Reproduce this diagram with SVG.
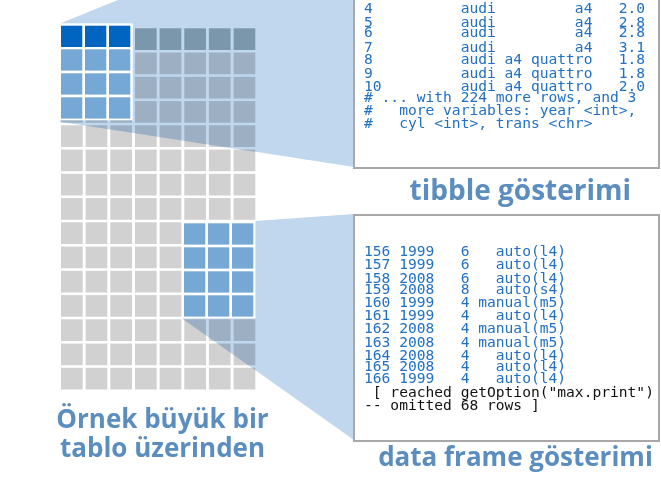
<svg xmlns="http://www.w3.org/2000/svg" width="661" height="478" viewBox="0 0 661 478">
<defs>
<style>
.c{fill:#d1d1d1}
.h{fill:#a3b3b9}
.d{fill:#0065c1}
.m{fill:#76a8d6}
.ov{fill:#c0d7ee;mix-blend-mode:multiply}
.box{fill:#ffffff;stroke:#a8a8a8;stroke-width:2}
.mono{font-family:"DejaVu Sans Mono","Liberation Mono",monospace;font-size:14.6px;fill:#2270c4;white-space:pre}
.blk{fill:#111111}
.lbl{font-family:"Open Sans","Noto Sans",sans-serif;font-weight:700;fill:#5b8dbe}
</style>
</defs>
<rect width="661" height="478" fill="#ffffff"/>
<g id="grid">
<g transform="translate(0,28.3)"><rect class="h" x="61" width="21.7" height="21.7"/><rect class="h" x="85.6" width="21.7" height="21.7"/><rect class="h" x="110.3" width="21.7" height="21.7"/><rect class="h" x="135" width="21.7" height="21.7"/><rect class="h" x="159.6" width="21.7" height="21.7"/><rect class="h" x="184.3" width="21.7" height="21.7"/><rect class="h" x="208.9" width="21.7" height="21.7"/><rect class="h" x="233.6" width="21.7" height="21.7"/></g>
<g transform="translate(0,52.55)"><rect class="c" x="61" width="21.7" height="21.7"/><rect class="c" x="85.6" width="21.7" height="21.7"/><rect class="c" x="110.3" width="21.7" height="21.7"/><rect class="c" x="135" width="21.7" height="21.7"/><rect class="c" x="159.6" width="21.7" height="21.7"/><rect class="c" x="184.3" width="21.7" height="21.7"/><rect class="c" x="208.9" width="21.7" height="21.7"/><rect class="c" x="233.6" width="21.7" height="21.7"/></g>
<g transform="translate(0,76.8)"><rect class="c" x="61" width="21.7" height="21.7"/><rect class="c" x="85.6" width="21.7" height="21.7"/><rect class="c" x="110.3" width="21.7" height="21.7"/><rect class="c" x="135" width="21.7" height="21.7"/><rect class="c" x="159.6" width="21.7" height="21.7"/><rect class="c" x="184.3" width="21.7" height="21.7"/><rect class="c" x="208.9" width="21.7" height="21.7"/><rect class="c" x="233.6" width="21.7" height="21.7"/></g>
<g transform="translate(0,101.05)"><rect class="c" x="61" width="21.7" height="21.7"/><rect class="c" x="85.6" width="21.7" height="21.7"/><rect class="c" x="110.3" width="21.7" height="21.7"/><rect class="c" x="135" width="21.7" height="21.7"/><rect class="c" x="159.6" width="21.7" height="21.7"/><rect class="c" x="184.3" width="21.7" height="21.7"/><rect class="c" x="208.9" width="21.7" height="21.7"/><rect class="c" x="233.6" width="21.7" height="21.7"/></g>
<g transform="translate(0,125.3)"><rect class="c" x="61" width="21.7" height="21.7"/><rect class="c" x="85.6" width="21.7" height="21.7"/><rect class="c" x="110.3" width="21.7" height="21.7"/><rect class="c" x="135" width="21.7" height="21.7"/><rect class="c" x="159.6" width="21.7" height="21.7"/><rect class="c" x="184.3" width="21.7" height="21.7"/><rect class="c" x="208.9" width="21.7" height="21.7"/><rect class="c" x="233.6" width="21.7" height="21.7"/></g>
<g transform="translate(0,149.55)"><rect class="c" x="61" width="21.7" height="21.7"/><rect class="c" x="85.6" width="21.7" height="21.7"/><rect class="c" x="110.3" width="21.7" height="21.7"/><rect class="c" x="135" width="21.7" height="21.7"/><rect class="c" x="159.6" width="21.7" height="21.7"/><rect class="c" x="184.3" width="21.7" height="21.7"/><rect class="c" x="208.9" width="21.7" height="21.7"/><rect class="c" x="233.6" width="21.7" height="21.7"/></g>
<g transform="translate(0,173.8)"><rect class="c" x="61" width="21.7" height="21.7"/><rect class="c" x="85.6" width="21.7" height="21.7"/><rect class="c" x="110.3" width="21.7" height="21.7"/><rect class="c" x="135" width="21.7" height="21.7"/><rect class="c" x="159.6" width="21.7" height="21.7"/><rect class="c" x="184.3" width="21.7" height="21.7"/><rect class="c" x="208.9" width="21.7" height="21.7"/><rect class="c" x="233.6" width="21.7" height="21.7"/></g>
<g transform="translate(0,198.05)"><rect class="c" x="61" width="21.7" height="21.7"/><rect class="c" x="85.6" width="21.7" height="21.7"/><rect class="c" x="110.3" width="21.7" height="21.7"/><rect class="c" x="135" width="21.7" height="21.7"/><rect class="c" x="159.6" width="21.7" height="21.7"/><rect class="c" x="184.3" width="21.7" height="21.7"/><rect class="c" x="208.9" width="21.7" height="21.7"/><rect class="c" x="233.6" width="21.7" height="21.7"/></g>
<g transform="translate(0,222.3)"><rect class="c" x="61" width="21.7" height="21.7"/><rect class="c" x="85.6" width="21.7" height="21.7"/><rect class="c" x="110.3" width="21.7" height="21.7"/><rect class="c" x="135" width="21.7" height="21.7"/><rect class="c" x="159.6" width="21.7" height="21.7"/><rect class="c" x="184.3" width="21.7" height="21.7"/><rect class="c" x="208.9" width="21.7" height="21.7"/><rect class="c" x="233.6" width="21.7" height="21.7"/></g>
<g transform="translate(0,246.55)"><rect class="c" x="61" width="21.7" height="21.7"/><rect class="c" x="85.6" width="21.7" height="21.7"/><rect class="c" x="110.3" width="21.7" height="21.7"/><rect class="c" x="135" width="21.7" height="21.7"/><rect class="c" x="159.6" width="21.7" height="21.7"/><rect class="c" x="184.3" width="21.7" height="21.7"/><rect class="c" x="208.9" width="21.7" height="21.7"/><rect class="c" x="233.6" width="21.7" height="21.7"/></g>
<g transform="translate(0,270.8)"><rect class="c" x="61" width="21.7" height="21.7"/><rect class="c" x="85.6" width="21.7" height="21.7"/><rect class="c" x="110.3" width="21.7" height="21.7"/><rect class="c" x="135" width="21.7" height="21.7"/><rect class="c" x="159.6" width="21.7" height="21.7"/><rect class="c" x="184.3" width="21.7" height="21.7"/><rect class="c" x="208.9" width="21.7" height="21.7"/><rect class="c" x="233.6" width="21.7" height="21.7"/></g>
<g transform="translate(0,295.05)"><rect class="c" x="61" width="21.7" height="21.7"/><rect class="c" x="85.6" width="21.7" height="21.7"/><rect class="c" x="110.3" width="21.7" height="21.7"/><rect class="c" x="135" width="21.7" height="21.7"/><rect class="c" x="159.6" width="21.7" height="21.7"/><rect class="c" x="184.3" width="21.7" height="21.7"/><rect class="c" x="208.9" width="21.7" height="21.7"/><rect class="c" x="233.6" width="21.7" height="21.7"/></g>
<g transform="translate(0,319.3)"><rect class="c" x="61" width="21.7" height="21.7"/><rect class="c" x="85.6" width="21.7" height="21.7"/><rect class="c" x="110.3" width="21.7" height="21.7"/><rect class="c" x="135" width="21.7" height="21.7"/><rect class="c" x="159.6" width="21.7" height="21.7"/><rect class="c" x="184.3" width="21.7" height="21.7"/><rect class="c" x="208.9" width="21.7" height="21.7"/><rect class="c" x="233.6" width="21.7" height="21.7"/></g>
<g transform="translate(0,343.55)"><rect class="c" x="61" width="21.7" height="21.7"/><rect class="c" x="85.6" width="21.7" height="21.7"/><rect class="c" x="110.3" width="21.7" height="21.7"/><rect class="c" x="135" width="21.7" height="21.7"/><rect class="c" x="159.6" width="21.7" height="21.7"/><rect class="c" x="184.3" width="21.7" height="21.7"/><rect class="c" x="208.9" width="21.7" height="21.7"/><rect class="c" x="233.6" width="21.7" height="21.7"/></g>
<g transform="translate(0,367.8)"><rect class="c" x="61" width="21.7" height="21.7"/><rect class="c" x="85.6" width="21.7" height="21.7"/><rect class="c" x="110.3" width="21.7" height="21.7"/><rect class="c" x="135" width="21.7" height="21.7"/><rect class="c" x="159.6" width="21.7" height="21.7"/><rect class="c" x="184.3" width="21.7" height="21.7"/><rect class="c" x="208.9" width="21.7" height="21.7"/><rect class="c" x="233.6" width="21.7" height="21.7"/></g>
</g>
<g id="connectors">
<polygon class="ov" points="60,23.5 118,0 354,0 354,167 60,121.7"/>
<polygon class="ov" points="182,318.5 255,221 354,214 354,440"/>
</g>
<g id="top-block">
<rect x="59.5" y="23.3" width="73.3" height="97" fill="#ffffff"/>
<rect class="d" x="61" y="25.7" width="21.3" height="21.3"/><rect class="d" x="85" y="25.7" width="21.3" height="21.3"/><rect class="d" x="109" y="25.7" width="21.3" height="21.3"/>
<rect class="m" x="61" y="49.3" width="21.3" height="21.3"/><rect class="m" x="85" y="49.3" width="21.3" height="21.3"/><rect class="m" x="109" y="49.3" width="21.3" height="21.3"/>
<rect class="m" x="61" y="73.3" width="21.3" height="21.3"/><rect class="m" x="85" y="73.3" width="21.3" height="21.3"/><rect class="m" x="109" y="73.3" width="21.3" height="21.3"/>
<rect class="m" x="61" y="97.3" width="21.3" height="21.3"/><rect class="m" x="85" y="97.3" width="21.3" height="21.3"/><rect class="m" x="109" y="97.3" width="21.3" height="21.3"/>
</g>
<g id="bottom-block">
<rect x="182" y="221" width="73.5" height="97.5" fill="#ffffff"/>
<rect class="m" x="184" y="223.3" width="21.3" height="21.3"/><rect class="m" x="208" y="223.3" width="21.3" height="21.3"/><rect class="m" x="232" y="223.3" width="21.3" height="21.3"/>
<rect class="m" x="184" y="247.3" width="21.3" height="21.3"/><rect class="m" x="208" y="247.3" width="21.3" height="21.3"/><rect class="m" x="232" y="247.3" width="21.3" height="21.3"/>
<rect class="m" x="184" y="271.3" width="21.3" height="21.3"/><rect class="m" x="208" y="271.3" width="21.3" height="21.3"/><rect class="m" x="232" y="271.3" width="21.3" height="21.3"/>
<rect class="m" x="184" y="295.3" width="21.3" height="21.3"/><rect class="m" x="208" y="295.3" width="21.3" height="21.3"/><rect class="m" x="232" y="295.3" width="21.3" height="21.3"/>
</g>
<g id="tibble-box">
<rect class="box" x="354" y="-10" width="305" height="178"/>
<text class="mono" x="364" y="13.3">4          audi         a4   2.0</text>
<text class="mono" x="364" y="26.7">5          audi         a4   2.8</text>
<text class="mono" x="364" y="37.3">6          audi         a4   2.8</text>
<text class="mono" x="364" y="51.7">7          audi         a4   3.1</text>
<text class="mono" x="364" y="64.3">8          audi a4 quattro   1.8</text>
<text class="mono" x="364" y="78.3">9          audi a4 quattro   1.8</text>
<text class="mono" x="364" y="91">10         audi a4 quattro   2.0</text>
<text class="mono" x="364" y="101.7"># ... with 224 more rows, and 3</text>
<text class="mono" x="364" y="115">#   more variables: year &lt;int&gt;,</text>
<text class="mono" x="364" y="127.7">#   cyl &lt;int&gt;, trans &lt;chr&gt;</text>
</g>
<g id="tibble-label">
<text class="lbl" x="520.3" y="199.5" font-size="28" text-anchor="middle">tibble gösterimi</text>
</g>
<g id="dataframe-box">
<rect class="box" x="354" y="215" width="305" height="226"/>
<text class="mono" x="364" y="255.7">156 1999   6   auto(l4)</text>
<text class="mono" x="364" y="269.3">157 1999   6   auto(l4)</text>
<text class="mono" x="364" y="282.7">158 2008   6   auto(l4)</text>
<text class="mono" x="364" y="294">159 2008   8   auto(s4)</text>
<text class="mono" x="364" y="306.7">160 1999   4 manual(m5)</text>
<text class="mono" x="364" y="320">161 1999   4   auto(l4)</text>
<text class="mono" x="364" y="333.3">162 2008   4 manual(m5)</text>
<text class="mono" x="364" y="346.7">163 2008   4 manual(m5)</text>
<text class="mono" x="364" y="360">164 2008   4   auto(l4)</text>
<text class="mono" x="364" y="371">165 2008   4   auto(l4)</text>
<text class="mono" x="364" y="383.3">166 1999   4   auto(l4)</text>
<text class="mono blk" x="364" y="397.3"> [ reached getOption("max.print")</text>
<text class="mono blk" x="364" y="410">-- omitted 68 rows ]</text>
</g>
<g id="dataframe-label">
<text class="lbl" x="515.5" y="466" font-size="26" text-anchor="middle">data frame gösterimi</text>
</g>
<g id="table-label">
<text class="lbl" x="162.5" y="428.3" font-size="26" text-anchor="middle">Örnek büyük bir</text>
<text class="lbl" x="162.5" y="456.7" font-size="26" text-anchor="middle">tablo üzerinden</text>
</g>
</svg>
